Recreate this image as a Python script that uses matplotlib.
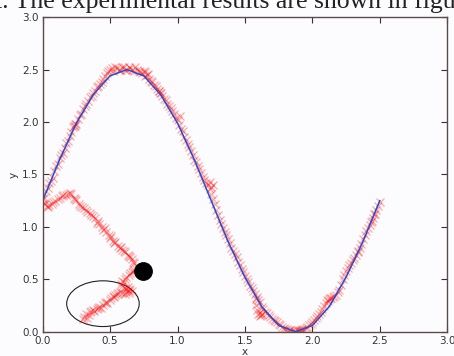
import matplotlib
matplotlib.use("Agg")
import matplotlib.pyplot as plt
from matplotlib.patches import Ellipse

# reference path (blue), vertices
ref_x = [0.0, 0.125, 0.25, 0.375, 0.5, 0.625, 0.75, 0.875, 1.0, 1.125, 1.25,
         1.375, 1.5, 1.625, 1.75, 1.875, 2.0, 2.125, 2.25, 2.375, 2.5]
ref_y = [1.25, 1.64, 1.99, 2.26, 2.44, 2.50, 2.44, 2.26, 1.99, 1.64, 1.25,
         0.86, 0.52, 0.24, 0.06, 0.0, 0.06, 0.24, 0.52, 0.86, 1.25]

# measured trajectory (red crosses)
start_x = [0.31, 0.32, 0.34, 0.35, 0.37, 0.38, 0.40, 0.42, 0.43, 0.45, 0.47, 0.48,
           0.50, 0.51, 0.53, 0.54, 0.56, 0.57, 0.59, 0.61, 0.62, 0.64, 0.65, 0.63,
           0.61, 0.59, 0.58, 0.59, 0.61, 0.62, 0.64, 0.65, 0.67, 0.69, 0.70,
           0.63, 0.64, 0.62, 0.66, 0.30, 0.33, 0.36, 0.41, 0.46, 0.52, 0.55, 0.60,
           0.66, 0.68]
start_y = [0.14, 0.17, 0.16, 0.19, 0.21, 0.20, 0.22, 0.24, 0.23, 0.26, 0.28, 0.27,
           0.30, 0.32, 0.33, 0.35, 0.37, 0.38, 0.37, 0.36, 0.38, 0.39, 0.41, 0.43,
           0.42, 0.44, 0.46, 0.48, 0.50, 0.52, 0.54, 0.56, 0.58, 0.60, 0.62,
           0.40, 0.37, 0.41, 0.39, 0.12, 0.13, 0.20, 0.23, 0.27, 0.34, 0.36, 0.47,
           0.57, 0.59]

back_x = [0.68, 0.66, 0.65, 0.63, 0.61, 0.59, 0.58, 0.56, 0.54, 0.52, 0.51, 0.49,
          0.47, 0.46, 0.44, 0.42, 0.41, 0.39, 0.37, 0.35, 0.33, 0.31, 0.29, 0.27,
          0.25, 0.23, 0.21, 0.19, 0.17, 0.15, 0.13, 0.11, 0.09, 0.07, 0.05, 0.03,
          0.02, 0.01, 0.67, 0.64, 0.60, 0.57, 0.53, 0.50, 0.45, 0.40, 0.36, 0.32,
          0.28, 0.24, 0.20, 0.14, 0.08, 0.04]
back_y = [0.66, 0.69, 0.71, 0.73, 0.76, 0.78, 0.81, 0.82, 0.86, 0.87, 0.91, 0.92,
          0.95, 0.99, 1.00, 1.03, 1.06, 1.08, 1.10, 1.13, 1.14, 1.18, 1.19, 1.22,
          1.26, 1.28, 1.31, 1.31, 1.30, 1.30, 1.28, 1.27, 1.25, 1.22, 1.21, 1.20,
          1.22, 1.23, 0.67, 0.72, 0.77, 0.80, 0.85, 0.89, 0.97, 1.04, 1.11, 1.16,
          1.20, 1.27, 1.32, 1.29, 1.24, 1.19]

track_x = [0.000, 0.025, 0.050, 0.075, 0.100, 0.125, 0.150, 0.175, 0.200, 0.225,
           0.250, 0.275, 0.300, 0.325, 0.350, 0.375, 0.400, 0.425, 0.450, 0.475,
           0.500, 0.525, 0.550, 0.575, 0.600, 0.625, 0.650, 0.675, 0.700, 0.725,
           0.750, 0.775, 0.800, 0.825, 0.850, 0.875, 0.900, 0.925, 0.950, 0.975,
           1.000, 1.025, 1.050, 1.075, 1.100, 1.125, 1.150, 1.175, 1.200, 1.225,
           1.250, 1.275, 1.300, 1.325, 1.350, 1.375, 1.400, 1.425, 1.450, 1.475,
           1.500, 1.525, 1.550, 1.575, 1.600, 1.625, 1.650, 1.675, 1.700, 1.725,
           1.750, 1.775, 1.800, 1.825, 1.850, 1.875, 1.900, 1.925, 1.950, 1.975,
           2.000, 2.025, 2.050, 2.075, 2.100, 2.125, 2.150, 2.175, 2.200, 2.225,
           2.250, 2.275, 2.300, 2.325, 2.350, 2.375, 2.400, 2.425, 2.450, 2.475,
           2.500]
track_y = [1.27, 1.34, 1.42, 1.47, 1.58, 1.66, 1.70, 1.80, 1.87, 1.95,
           1.98, 2.07, 2.12, 2.17, 2.24, 2.28, 2.33, 2.36, 2.41, 2.47,
           2.50, 2.49, 2.51, 2.50, 2.52, 2.50, 2.51, 2.49, 2.50, 2.48,
           2.49, 2.45, 2.39, 2.35, 2.31, 2.28, 2.22, 2.17, 2.13, 2.08,
           2.02, 1.93, 1.86, 1.79, 1.72, 1.64, 1.58, 1.51, 1.45, 1.40,
           1.31, 1.22, 1.11, 1.03, 0.95, 0.88, 0.80, 0.74, 0.67, 0.60,
           0.53, 0.47, 0.42, 0.36, 0.30, 0.24, 0.19, 0.16, 0.12, 0.10,
           0.07, 0.05, 0.03, 0.02, 0.01, 0.01, 0.02, 0.03, 0.04, 0.06,
           0.09, 0.13, 0.17, 0.22, 0.27, 0.31, 0.33, 0.35, 0.40, 0.50,
           0.58, 0.64, 0.68, 0.73, 0.80, 0.88, 0.96, 1.02, 1.08, 1.16,
           1.24]

track2_x = [0.0125, 0.0375, 0.0625, 0.0875, 0.1125, 0.1375, 0.1625, 0.1875, 0.2125, 0.2375,
            0.2625, 0.2875, 0.3125, 0.3375, 0.3625, 0.3875, 0.4125, 0.4375, 0.4625, 0.4875,
            0.5125, 0.5375, 0.5625, 0.5875, 0.6125, 0.6375, 0.6625, 0.6875, 0.7125, 0.7375,
            0.7625, 0.7875, 0.8125, 0.8375, 0.8625, 0.8875, 0.9125, 0.9375, 0.9625, 0.9875,
            1.0125, 1.0375, 1.0625, 1.0875, 1.1125, 1.1375, 1.1625, 1.1875, 1.2125, 1.2375,
            1.2625, 1.2875, 1.3125, 1.3375, 1.3625, 1.3875, 1.4125, 1.4375, 1.4625, 1.4875,
            1.5125, 1.5375, 1.5625, 1.5875, 1.6125, 1.6375, 1.6625, 1.6875, 1.7125, 1.7375,
            1.7625, 1.7875, 1.8125, 1.8375, 1.8625, 1.8875, 1.9125, 1.9375, 1.9625, 1.9875,
            2.0125, 2.0375, 2.0625, 2.0875, 2.1125, 2.1375, 2.1625, 2.1875, 2.2125, 2.2375,
            2.2625, 2.2875, 2.3125, 2.3375, 2.3625, 2.3875, 2.4125, 2.4375, 2.4625, 2.4875]
track2_y = [1.28, 1.37, 1.44, 1.53, 1.60, 1.69, 1.75, 1.82, 1.90, 1.96,
            2.03, 2.08, 2.15, 2.20, 2.25, 2.30, 2.34, 2.38, 2.44, 2.49,
            2.51, 2.52, 2.50, 2.52, 2.50, 2.52, 2.50, 2.52, 2.49, 2.47,
            2.44, 2.41, 2.38, 2.34, 2.30, 2.25, 2.21, 2.15, 2.10, 2.04,
            1.97, 1.91, 1.83, 1.76, 1.69, 1.62, 1.55, 1.48, 1.42, 1.36,
            1.27, 1.16, 1.07, 0.99, 0.92, 0.85, 0.77, 0.71, 0.64, 0.57,
            0.50, 0.44, 0.39, 0.33, 0.28, 0.22, 0.18, 0.14, 0.11, 0.09,
            0.06, 0.04, 0.03, 0.02, 0.01, 0.02, 0.02, 0.03, 0.05, 0.07,
            0.11, 0.15, 0.19, 0.25, 0.29, 0.32, 0.34, 0.38, 0.45, 0.54,
            0.61, 0.66, 0.70, 0.77, 0.84, 0.92, 0.99, 1.05, 1.12, 1.20]

extra_x = [1.60, 1.61, 1.62, 1.63, 1.61, 1.59, 1.58, 1.58, 0.23, 0.24, 0.76, 0.78,
           0.86, 0.87, 1.24, 1.26, 1.25, 1.02, 1.87, 1.90, 1.92, 2.11, 2.13, 2.44,
           2.46, 2.34]
extra_y = [0.17, 0.15, 0.16, 0.17, 0.18, 0.21, 0.26, 0.31, 1.96, 1.98, 2.48, 2.46,
           2.30, 2.28, 1.43, 1.40, 1.38, 2.06, 0.00, 0.01, 0.02, 0.30, 0.32, 1.06,
           1.12, 0.76]

robot = (0.745, 0.575)
region = (0.447, 0.268, 0.538, 0.436)  # centre x, centre y, width, height

fig = plt.figure(figsize=(4.54, 3.56), dpi=100, facecolor="#fcfcfe")
ax = fig.add_axes([0.094, 0.068, 0.891, 0.884], facecolor="#fcfcfe")

red_x = start_x + back_x + track_x + track2_x + extra_x
red_y = start_y + back_y + track_y + track2_y + extra_y
ax.plot(red_x, red_y, "x", color="red", ms=5.5, mew=0.9, alpha=0.33)
ax.plot(ref_x, ref_y, color="#1f4fd8", lw=1.1)
ax.plot(robot[0], robot[1], "o", color="black", ms=12.5)
ax.add_patch(Ellipse(region[:2], region[2], region[3], fill=False,
                     edgecolor="#222222", lw=0.8))

ax.set_xlim(0, 3)
ax.set_ylim(0, 3)
ax.set_xticks([0, 0.5, 1, 1.5, 2, 2.5, 3])
ax.set_yticks([0, 0.5, 1, 1.5, 2, 2.5, 3])
ax.set_xticklabels(["0.0", "0.5", "1.0", "1.5", "2.0", "2.5", "3.0"])
ax.set_yticklabels(["0.0", "0.5", "1.0", "1.5", "2.0", "2.5", "3.0"])
ax.tick_params(direction="in", length=4, width=0.8, top=True, right=True,
               labelsize=7.5, colors="#333333", pad=3)
for s in ax.spines.values():
    s.set_color("#5a4a48")
    s.set_linewidth(1.0)
ax.set_xlabel("x", fontsize=7.5, labelpad=1, color="#333333")
ax.set_ylabel("y", fontsize=7.5, labelpad=2, color="#333333")

fig.text(-0.01, 0.978, "t. The experimental results are shown in figure",
         family="Liberation Serif", fontsize=18.5, va="baseline", color="#222222")

fig.savefig("out.png", dpi=100, facecolor=fig.get_facecolor())
